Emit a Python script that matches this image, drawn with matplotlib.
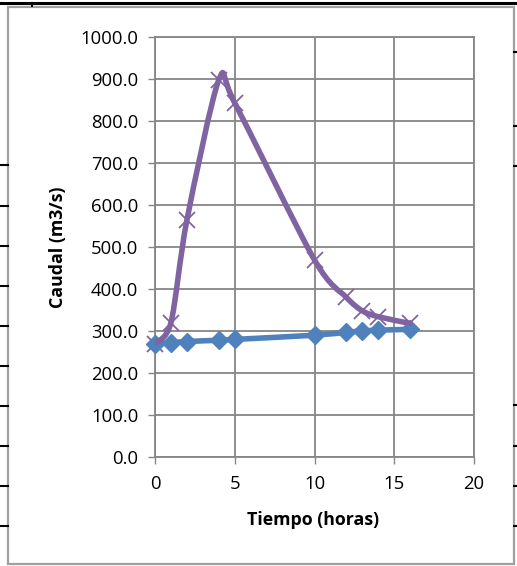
import numpy as np
import matplotlib
matplotlib.use("Agg")
import matplotlib.pyplot as plt
from matplotlib.path import Path
from matplotlib.patches import PathPatch, Rectangle
from matplotlib.lines import Line2D

# ---- data ----
tiempo = [0, 1, 2, 4, 5, 10, 12, 13, 14, 16]
caudal_base = [270, 272, 275, 278, 280, 290, 297, 300, 302, 304]
caudal_hidro = [270, 320, 564, 898, 843, 469, 380, 348, 334, 318]
x_ticks = [0, 5, 10, 15, 20]
y_ticks = [0, 100, 200, 300, 400, 500, 600, 700, 800, 900, 1000]
x_label = "Tiempo (horas)"
y_label = "Caudal (m3/s)"

BLUE = "#4F81BD"
PURPLE = "#8064A2"
GRID = "#868686"

W, H = 517, 566
fig = plt.figure(figsize=(W / 100, H / 100), dpi=100)
plt.rcParams['font.family'] = ['Open Sans', 'DejaVu Sans']

def fx(px):
    return px / W

def fy(py):
    return 1 - py / H

# plot area in pixels
L, R, T, B = 155, 474, 37, 457
ax = fig.add_axes([fx(L), fy(B), (R - L) / W, (B - T) / H])
ax.set_xlim(0, 20)
ax.set_ylim(0, 1000)
ax.set_xticks(x_ticks)
ax.set_yticks(y_ticks)
ax.set_yticklabels([f"{v:.1f}" for v in y_ticks])
ax.grid(True, color=GRID, linewidth=1.3)
ax.set_axisbelow(True)
for s in ax.spines.values():
    s.set_color(GRID)
    s.set_linewidth(1.3)
ax.tick_params(direction='out', length=5, width=1.0, color=GRID,
               labelsize=13.3, labelcolor='black')
ax.tick_params(axis='y', pad=7)
ax.tick_params(axis='x', pad=8)

# Excel-like smoothed line (Catmull-Rom Bezier in screen-proportional space)
def smooth_path(xs, ys, k=7.0):
    sx = (R - L) / 20.0
    sy = (B - T) / 1000.0
    P = np.column_stack([np.asarray(xs, float) * sx, np.asarray(ys, float) * sy])
    n = len(P)
    verts = [P[0]]
    codes = [Path.MOVETO]
    for i in range(n - 1):
        p0 = P[i - 1] if i > 0 else P[i]
        p1 = P[i]
        p2 = P[i + 1]
        p3 = P[i + 2] if i + 2 < n else P[i + 1]
        c1 = p1 + (p2 - p0) / k
        c2 = p2 - (p3 - p1) / k
        verts += [c1, c2, p2]
        codes += [Path.CURVE4] * 3
    V = np.array(verts)
    V[:, 0] /= sx
    V[:, 1] /= sy
    return Path(V, codes)

ax.add_patch(PathPatch(smooth_path(tiempo, caudal_base), facecolor='none',
                       edgecolor=BLUE, linewidth=4.0, capstyle='round',
                       joinstyle='round', zorder=2))
ax.plot(tiempo, caudal_hidro, linestyle='none', marker='x', markersize=12,
        markeredgewidth=1.3, color=PURPLE, zorder=3, clip_on=False)
ax.plot(tiempo, caudal_base, linestyle='none', marker='D', markersize=9.5,
        color=BLUE, markeredgecolor=BLUE, zorder=4, clip_on=False)
ax.add_patch(PathPatch(smooth_path(tiempo, caudal_hidro), facecolor='none',
                       edgecolor=PURPLE, linewidth=4.0, capstyle='round',
                       joinstyle='round', zorder=5))

fig.text(fx(313.5), fy(520), x_label, ha='center', va='center',
         fontsize=12.8, fontweight='bold')
fig.text(fx(58), fy(247), y_label, ha='center', va='center', rotation=90,
         fontsize=12.8, fontweight='bold')

# chart frame and surrounding sheet borders
fig.add_artist(Rectangle((fx(8), fy(564)), (514 - 8) / W, (564 - 7) / H,
                         transform=fig.transFigure, fill=False,
                         edgecolor='#A0A0A0', linewidth=1.6))
fig.add_artist(Line2D([0, 1], [fy(3), fy(3)], transform=fig.transFigure,
                      color='black', linewidth=2.2))
fig.add_artist(Line2D([fx(32), fx(32)], [fy(3), fy(6)],
                      transform=fig.transFigure, color='black', linewidth=1.5))
for yy in [165, 206, 246, 286, 326, 366, 406, 446, 486, 526]:
    fig.add_artist(Line2D([0, fx(8)], [fy(yy), fy(yy)],
                          transform=fig.transFigure, color='black', linewidth=1.5))
for yy in [52, 126, 166, 405, 446, 486, 526]:
    fig.add_artist(Line2D([fx(514), 1], [fy(yy), fy(yy)],
                          transform=fig.transFigure, color='black', linewidth=1.5))

fig.savefig("out.png", dpi=100)
